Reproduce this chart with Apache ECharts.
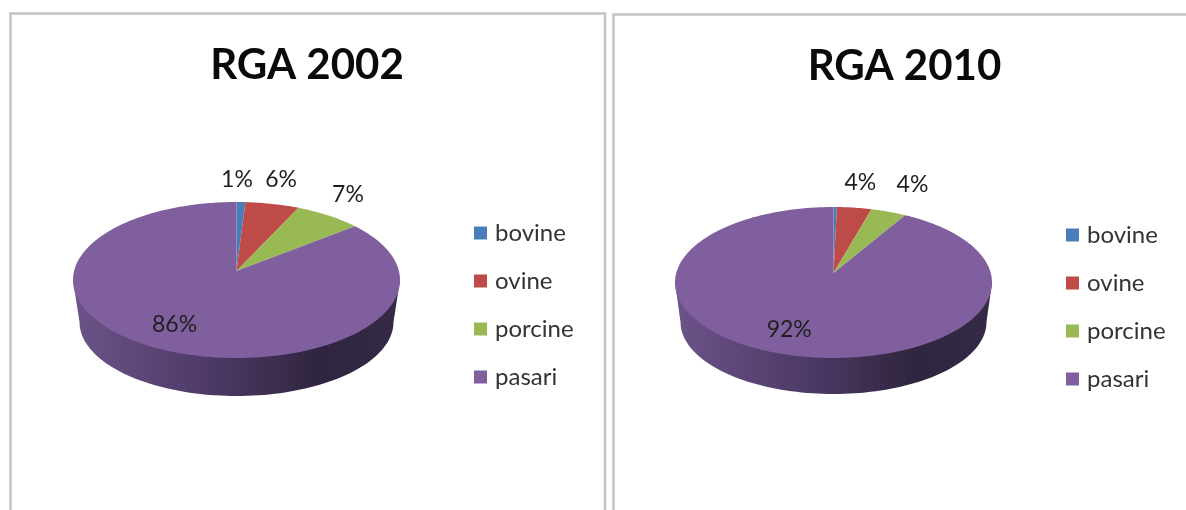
<!DOCTYPE html>
<html>
<head>
<meta charset="utf-8">
<style>
  html, body { margin: 0; padding: 0; background: #fff; }
  #main { width: 1186px; height: 510px; }
</style>
<script src="https://cdn.jsdelivr.net/npm/echarts@6/dist/echarts.min.js"></script>
</head>
<body>
<div id="main"></div>
<script>
// date
const categories = ['bovine', 'ovine', 'porcine', 'pasari']
const colors = ['#4a7ebb', '#be4b48', '#98b954', '#7f5f9e']
const values2002 = [1, 6, 7, 86]
const values2010 = [0.4, 4, 4, 91.6]

const fontName = 'Lato, Carlito, sans-serif'
// perspectiva: feliile din spate apar putin mai inguste
const foreshorten = 0.87

// geometria fiecarui panou (elipsa de sus, elipsa de jos, varful feliilor)
const panels = [
  {
    title: 'RGA 2002', titleX: 302, titleY: 39, values: values2002,
    cx: 236.5, cy: 280, rx: 163.5, ry: 78, apexY: 271,
    bottomRx: 157, bottomCy: 322, bottomRy: 74,
    legendX: 469, legendY: 216,
    labelOffset: [[-4, -22], [9, -24], [20, -21], [0, -28]]
  },
  {
    title: 'RGA 2010', titleX: 899.5, titleY: 40, values: values2010,
    cx: 833.5, cy: 282.5, rx: 158.5, ry: 75.5, apexY: 273,
    bottomRx: 153, bottomCy: 322, bottomRy: 72,
    legendX: 1061, legendY: 218,
    labelOffset: [[0, 0], [6, -25], [24, -27], [-8, -26]]
  }
]

function rimPoint (p, pct) {
  let t = pct / 100 * Math.PI * 2
  let a = Math.atan2(foreshorten * Math.sin(t), Math.cos(t))
  return [p.cx + p.rx * Math.sin(a), p.cy - p.ry * Math.cos(a)]
}

function wallSeries (p) {
  return {
    type: 'custom',
    name: 'wall',
    coordinateSystem: 'none',
    silent: true,
    data: [[0]],
    renderItem () {
      let points = [[p.cx - p.rx, p.cy]]
      for (let d = 0; d <= 180; d += 2) {
        let a = d * Math.PI / 180
        points.push([p.cx - p.bottomRx * Math.cos(a), p.bottomCy + p.bottomRy * Math.sin(a)])
      }
      points.push([p.cx + p.rx, p.cy])
      return {
        type: 'polygon',
        shape: { points: points },
        style: {
          fill: new echarts.graphic.LinearGradient(0, 0, 1, 0, [
            { offset: 0, color: '#6c5389' },
            { offset: 0.45, color: '#4a3863' },
            { offset: 0.75, color: '#30253f' },
            { offset: 1, color: '#352a47' }
          ])
        }
      }
    }
  }
}

function sliceSeries (p, i) {
  let start = p.values.slice(0, i).reduce((a, b) => a + b, 0)
  return {
    type: 'custom',
    name: categories[i],
    coordinateSystem: 'none',
    silent: true,
    itemStyle: { color: colors[i] },
    data: [[p.values[i]]],
    renderItem (params, api) {
      let value = api.value(0)
      let points = [[p.cx, p.apexY]]
      let steps = Math.max(2, Math.ceil(value * 3.6))
      for (let s = 0; s <= steps; s++) {
        points.push(rimPoint(p, start + value * s / steps))
      }
      let children = [{
        type: 'polygon',
        shape: { points: points },
        style: { fill: colors[i] }
      }]
      let pct = Math.round(value)
      if (pct >= 1) {
        let mid = rimPoint(p, start + value / 2)
        children.push({
          type: 'text',
          z2: 10,
          style: {
            x: mid[0] + p.labelOffset[i][0],
            y: mid[1] + p.labelOffset[i][1],
            text: pct + '%',
            fill: '#1f1f1f',
            font: '23px ' + fontName,
            align: 'center',
            verticalAlign: 'middle'
          }
        })
      }
      return { type: 'group', children: children }
    }
  }
}

let series = []
panels.forEach(p => {
  series.push(wallSeries(p))
  categories.forEach((c, i) => series.push(sliceSeries(p, i)))
})

let chart = echarts.init(document.getElementById('main'))
chart.setOption({
  animation: false,
  backgroundColor: '#fff',
  title: panels.map(p => ({
    text: p.title,
    left: p.titleX,
    top: p.titleY,
    textAlign: 'center',
    textStyle: { fontFamily: fontName, fontSize: 42, fontWeight: 'bold', color: '#0a0a0a' }
  })),
  legend: panels.map(p => ({
    data: categories,
    orient: 'vertical',
    left: p.legendX,
    top: p.legendY,
    icon: 'rect',
    itemWidth: 13,
    itemHeight: 13,
    itemGap: 24,
    selectedMode: false,
    textStyle: { fontFamily: fontName, fontSize: 24, color: '#333', padding: [0, 0, 0, 3] }
  })),
  graphic: [
    { type: 'polyline', shape: { points: [[10.5, 510], [10.5, 13.5], [605, 13.5], [605, 510]] }, style: { stroke: '#c4c4c4', lineWidth: 2.5, fill: 'none' } },
    { type: 'polyline', shape: { points: [[613.5, 510], [613.5, 14.5], [1186, 14.5]] }, style: { stroke: '#c4c4c4', lineWidth: 2.5, fill: 'none' } }
  ],
  series: series
})
</script>
</body>
</html>
